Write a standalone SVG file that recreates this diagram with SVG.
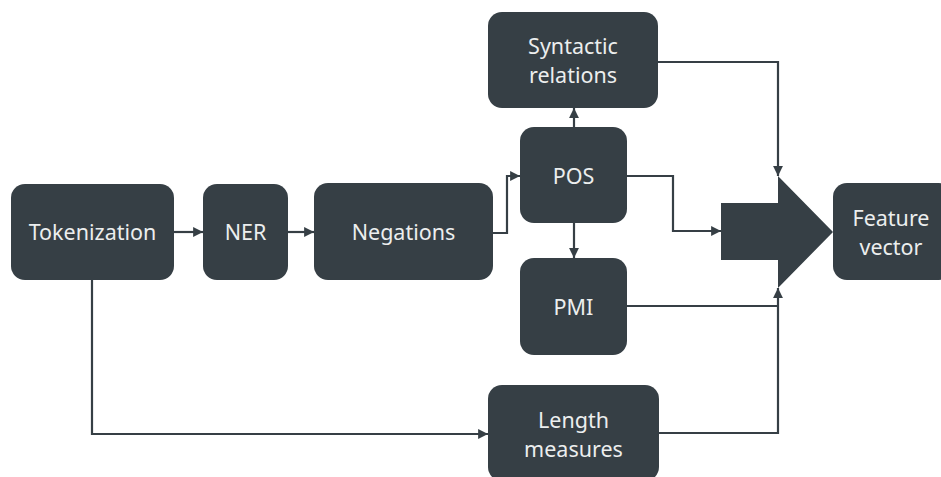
<svg xmlns="http://www.w3.org/2000/svg" width="941" height="477" viewBox="0 0 941 477">
  <style>
    .box { fill: #363f45; }
    .lbl { fill: #eceeee; font-family: "Noto Sans", "DejaVu Sans", sans-serif; font-size: 21.5px; text-anchor: middle; }
    .wire { fill: none; stroke: #363f45; stroke-width: 2.2; }
  </style>
  <defs>
    <marker id="arrow" viewBox="0 0 10 10" refX="10" refY="5" markerWidth="4.5" markerHeight="4.5" orient="auto" markerUnits="strokeWidth">
      <path d="M0,0 L10,5 L0,10 z" fill="#363f45"/>
    </marker>
  </defs>
  <rect width="941" height="477" fill="#ffffff"/>

  <!-- connectors -->
  <g id="connectors">
    <path class="wire" d="M174,232 H203" marker-end="url(#arrow)"/>
    <path class="wire" d="M288,232 H314" marker-end="url(#arrow)"/>
    <path class="wire" d="M493,233 H507 V176 H520" marker-end="url(#arrow)"/>
    <path class="wire" d="M574,127 V108" marker-end="url(#arrow)"/>
    <path class="wire" d="M574,223 V258" marker-end="url(#arrow)"/>
    <path class="wire" d="M627,176 H673 V231 H721" marker-end="url(#arrow)"/>
    <path class="wire" d="M658,62 H778 V176" marker-end="url(#arrow)"/>
    <path class="wire" d="M627,306 H778"/>
    <path class="wire" d="M659,433 H778 V288" marker-end="url(#arrow)"/>
    <path class="wire" d="M92,280 V434 H488" marker-end="url(#arrow)"/>
  </g>

  <!-- merge arrow -->
  <g id="merge">
    <path class="box" d="M721,203 H778 V176 L833,232 L778,288 V260 H721 Z"/>
  </g>

  <!-- nodes -->
  <g id="tokenization">
    <rect class="box" x="11" y="184" width="163" height="96" rx="14"/>
    <text class="lbl" x="92.5" y="240">Tokenization</text>
  </g>
  <g id="ner">
    <rect class="box" x="203" y="184" width="85" height="96" rx="14"/>
    <text class="lbl" x="245.5" y="240">NER</text>
  </g>
  <g id="negations">
    <rect class="box" x="314" y="183" width="179" height="97" rx="14"/>
    <text class="lbl" x="403.5" y="240">Negations</text>
  </g>
  <g id="syntactic">
    <rect class="box" x="488" y="12" width="170" height="96" rx="14"/>
    <text class="lbl" x="573" y="54">Syntactic</text>
    <text class="lbl" x="573" y="83">relations</text>
  </g>
  <g id="pos">
    <rect class="box" x="520" y="127" width="107" height="96" rx="14"/>
    <text class="lbl" x="573.5" y="184">POS</text>
  </g>
  <g id="pmi">
    <rect class="box" x="520" y="258" width="107" height="97" rx="14"/>
    <text class="lbl" x="573.5" y="315">PMI</text>
  </g>
  <g id="length">
    <rect class="box" x="488" y="385" width="171" height="96" rx="14"/>
    <text class="lbl" x="573.5" y="428">Length</text>
    <text class="lbl" x="573.5" y="457">measures</text>
  </g>
  <g id="feature">
    <rect class="box" x="833" y="183" width="120" height="97" rx="14"/>
    <text class="lbl" x="891" y="226">Feature</text>
    <text class="lbl" x="891" y="255">vector</text>
  </g>
</svg>
